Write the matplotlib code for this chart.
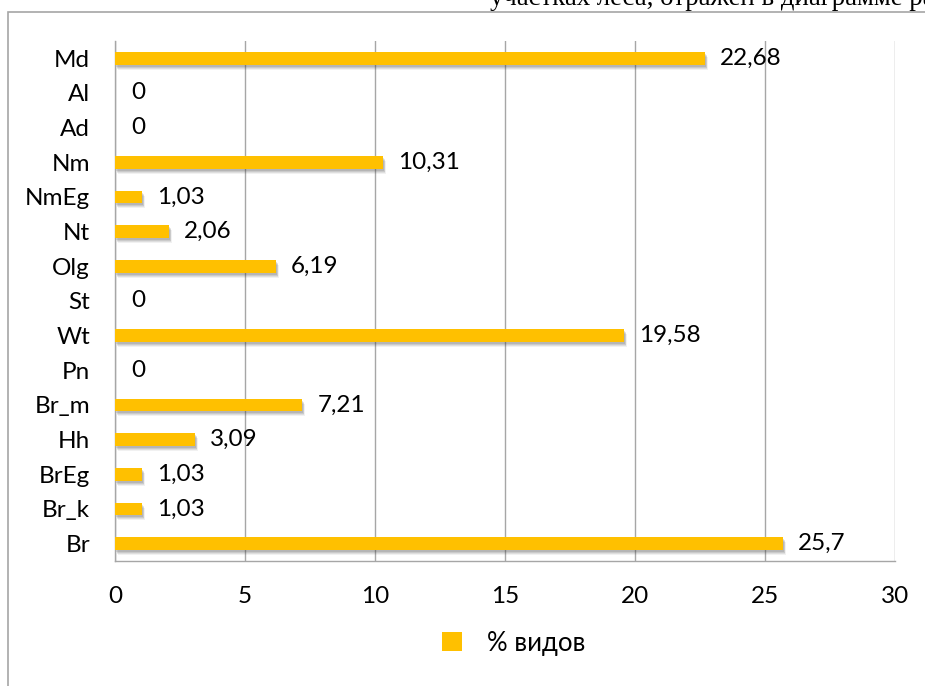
import matplotlib
matplotlib.use("Agg")
import matplotlib.pyplot as plt
from matplotlib.patches import Rectangle
from matplotlib.transforms import offset_copy

categories = ["Br", "Br_k", "BrEg", "Hh", "Br_m", "Pn", "Wt", "St", "Olg", "Nt", "NmEg", "Nm", "Ad", "Al", "Md"]
values = [25.7, 1.03, 1.03, 3.09, 7.21, 0, 19.58, 0, 6.19, 2.06, 1.03, 10.31, 0, 0, 22.68]
labels = ["25,7", "1,03", "1,03", "3,09", "7,21", "0", "19,58", "0", "6,19", "2,06", "1,03", "10,31", "0", "0", "22,68"]
xticks = [0, 5, 10, 15, 20, 25, 30]
series_name = "% видов"

plt.rcParams['font.family'] = ['Lato', 'DejaVu Sans']
FS = 17.5

W, H = 925, 686
fig = plt.figure(figsize=(W / 100, H / 100), dpi=100)

# outer chart border (extends beyond right/bottom edge)
fig.patches.append(Rectangle((8 / W, -0.1), 1.2, (H - 12) / H + 0.1, transform=fig.transFigure,
                             fill=False, edgecolor="#a6a6a6", linewidth=1.2, zorder=0))
# cut-off document text at top
fig.text(490 / W, 1 - 5 / H, "участках леса, отражен в диаграмме ра", family="Liberation Serif",
         fontsize=19.3, ha="left", va="baseline", color="black")

ax = fig.add_axes([115 / W, 1 - 561 / H, (895 - 115) / W, (561 - 41) / H])
ypos = list(range(len(categories)))
bh = 0.37

# shadow layers
for dx, dy, a in [(3, -5, 0.07), (2, -4, 0.10), (2, -3, 0.12), (1, -2, 0.15)]:
    tr = offset_copy(ax.transData, fig=fig, x=dx, y=dy, units="dots")
    ax.barh(ypos, values, height=bh, color="#404040", alpha=a, transform=tr, zorder=2, linewidth=0)
ax.barh(ypos, values, height=bh, color="#FFC000", zorder=3, linewidth=0, label=series_name)

for y, v, lab in zip(ypos, values, labels):
    tr = offset_copy(ax.transData, fig=fig, x=15 if v > 0 else 16, y=0, units="dots")
    ax.text(v, y, lab, transform=tr, ha="left", va="center", fontsize=FS, color="black", zorder=4)

ax.set_xlim(0, 30)
ax.set_ylim(-0.5, len(categories) - 0.5)
ax.set_xticks(xticks)
ax.set_xticklabels([str(t) for t in xticks], fontsize=FS)
ax.set_yticks(ypos)
ax.set_yticklabels(categories, fontsize=FS)
ax.tick_params(axis="both", length=0)
ax.tick_params(axis="x", pad=18)
ax.tick_params(axis="y", pad=18)
ax.grid(axis="x", color="#a6a6a6", linewidth=1.0, zorder=1)
ax.set_axisbelow(True)
for s in ["top", "right"]:
    ax.spines[s].set_visible(False)
for s in ["left", "bottom"]:
    ax.spines[s].set_color("#a6a6a6")
    ax.spines[s].set_linewidth(1.0)

handles, labs = ax.get_legend_handles_labels()
leg = fig.legend(handles[-1:], labs[-1:], loc="center", bbox_to_anchor=(514 / W, 1 - 643 / H),
                 frameon=False, fontsize=FS + 1, handlelength=0.75, handleheight=0.75, handletextpad=1.0)

fig.savefig("out.png", dpi=100)
